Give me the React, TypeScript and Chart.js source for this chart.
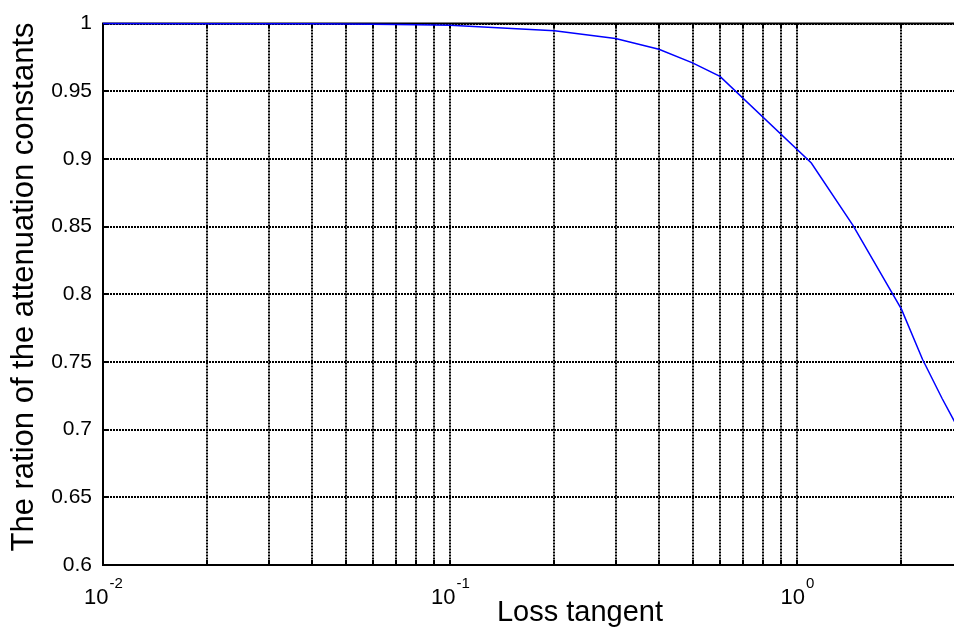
import { useEffect, useRef } from "react";
import { Chart, registerables } from "chart.js";

Chart.register(...registerables);

// Loss tangent samples and the ratio of the exact to the low-loss attenuation constant
const lossTangent = [
  0.01, 0.02, 0.03, 0.04, 0.05, 0.06, 0.07, 0.08, 0.09, 0.1,
  0.2, 0.3, 0.4, 0.5, 0.6, 1.1, 1.45, 2.0, 2.3, 2.62, 3.0,
];
const attenuationRatio = [
  1.0, 0.99995, 0.9999, 0.9998, 0.9997, 0.99955, 0.9994, 0.9992, 0.999, 0.9988,
  0.9948, 0.989, 0.981, 0.971, 0.961, 0.897, 0.851, 0.789, 0.752, 0.723, 0.695,
];

// Log-axis grid positions (every integer multiple within each decade)
const xGridValues = [
  0.01, 0.02, 0.03, 0.04, 0.05, 0.06, 0.07, 0.08, 0.09,
  0.1, 0.2, 0.3, 0.4, 0.5, 0.6, 0.7, 0.8, 0.9,
  1, 2,
];
const xDecadeValues = [0.01, 0.1, 1];
const xDecadeExponents = ["-2", "-1", "0"];
const yTickValues = [0.6, 0.65, 0.7, 0.75, 0.8, 0.85, 0.9, 0.95, 1];

const X_MIN = 0.01;
const X_MAX = 2.835;
const Y_MIN = 0.6;
const Y_MAX = 1;

const FONT = "'Liberation Sans', Arial, Helvetica, sans-serif";
const X_TITLE = "Loss tangent";
const Y_TITLE = "The ration of the attenuation constants";

const axesDecor = {
  id: "axesDecor",
  beforeDatasetsDraw(chart: any) {
    const { ctx, chartArea: a, scales } = chart;
    const xs = scales.x;
    const ys = scales.y;
    ctx.save();
    ctx.strokeStyle = "#000";
    // top edge of the axes box
    ctx.lineWidth = 2;
    ctx.beginPath();
    ctx.moveTo(a.left - 1, a.top);
    ctx.lineTo(a.right, a.top);
    ctx.stroke();
    // inward tick marks
    ctx.lineWidth = 2;
    ctx.beginPath();
    for (const v of xGridValues) {
      const px = Math.round(xs.getPixelForValue(v));
      ctx.moveTo(px, a.bottom);
      ctx.lineTo(px, a.bottom - 5);
      ctx.moveTo(px, a.top);
      ctx.lineTo(px, a.top + 5);
    }
    for (const v of yTickValues) {
      const py = Math.round(ys.getPixelForValue(v));
      ctx.moveTo(a.left, py);
      ctx.lineTo(a.left + 5, py);
    }
    ctx.stroke();
    ctx.restore();
  },
  afterDraw(chart: any) {
    const { ctx, scales } = chart;
    const xs = scales.x;
    ctx.save();
    ctx.fillStyle = "#000";
    ctx.textBaseline = "alphabetic";
    ctx.textAlign = "left";
    // decade labels with superscript exponents
    xDecadeValues.forEach((v, i) => {
      const px = xs.getPixelForValue(v);
      ctx.font = `22px ${FONT}`;
      const wBase = ctx.measureText("10").width;
      ctx.font = `15px ${FONT}`;
      const wExp = ctx.measureText(xDecadeExponents[i]).width;
      const start = px - (wBase + wExp) / 2;
      ctx.font = `22px ${FONT}`;
      ctx.fillText("10", start, 604);
      ctx.font = `15px ${FONT}`;
      ctx.fillText(xDecadeExponents[i], start + wBase + 1, 588);
    });
    // axis titles
    ctx.font = `29px ${FONT}`;
    ctx.textAlign = "center";
    ctx.fillText(X_TITLE, 580, 621);
    ctx.font = `31px ${FONT}`;
    ctx.translate(33, 287);
    ctx.rotate(-Math.PI / 2);
    ctx.fillText(Y_TITLE, 0, 0);
    ctx.restore();
  },
};

export default function App() {
  const canvasRef = useRef<HTMLCanvasElement | null>(null);

  useEffect(() => {
    const canvas = canvasRef.current;
    if (!canvas) return;
    const chart = new Chart(canvas, {
      type: "line",
      data: {
        datasets: [
          {
            data: lossTangent.map((x, i) => ({ x, y: attenuationRatio[i] })),
            borderColor: "#0000ff",
            borderWidth: 1.5,
            pointRadius: 0,
            tension: 0,
            fill: false,
            clip: { left: 2, top: 3, right: 0, bottom: 2 } as any,
          },
        ],
      },
      options: {
        responsive: false,
        animation: false,
        devicePixelRatio: 1,
        layout: { padding: { top: 20, right: 0, left: 0, bottom: 0 } },
        plugins: {
          legend: { display: false },
          tooltip: { enabled: false },
        },
        scales: {
          x: {
            type: "logarithmic",
            min: X_MIN,
            max: X_MAX,
            afterBuildTicks: (s: any) => {
              s.ticks = xGridValues.map((v) => ({ value: v }));
            },
            afterFit: (s: any) => {
              s.height = 65;
            },
            ticks: { display: false },
            grid: { color: "#000", lineWidth: 2, drawTicks: false },
            border: { display: true, color: "#000", width: 2, dash: [2, 1] },
          },
          y: {
            type: "linear",
            min: Y_MIN,
            max: Y_MAX,
            afterBuildTicks: (s: any) => {
              s.ticks = yTickValues.map((v) => ({ value: v }));
            },
            afterFit: (s: any) => {
              s.width = 103;
            },
            ticks: {
              color: "#000",
              padding: 11,
              font: { family: FONT, size: 21 },
              callback: (v: any) => String(+Number(v).toFixed(2)),
            },
            grid: { color: "#000", lineWidth: 2, drawTicks: false },
            border: { display: true, color: "#000", width: 2, dash: [2, 1] },
          },
        },
      },
      plugins: [axesDecor],
    });
    return () => chart.destroy();
  }, []);

  return (
    <div
      style={{
        position: "fixed",
        left: 0,
        top: 0,
        width: 954,
        height: 630,
        background: "#fff",
      }}
    >
      <canvas ref={canvasRef} width={954} height={630} style={{ width: 954, height: 630 }} />
    </div>
  );
}
